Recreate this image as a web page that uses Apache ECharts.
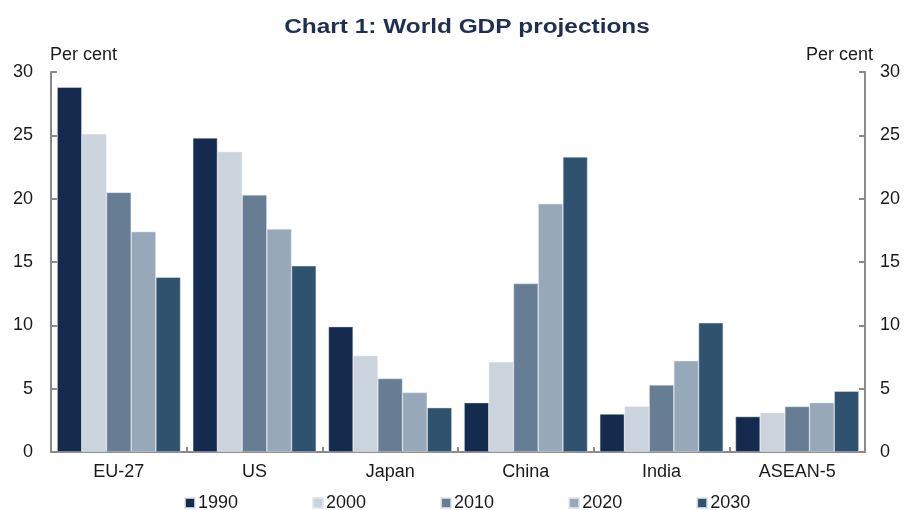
<!DOCTYPE html>
<html>
<head>
<meta charset="utf-8">
<script src="https://cdn.jsdelivr.net/npm/echarts@6/dist/echarts.min.js"></script>
<style>
  html, body { margin: 0; padding: 0; background: #fff; }
  #chart { width: 910px; height: 510px; }
</style>
</head>
<body>
<div id="chart"></div>
<script>
// Share of world GDP by economy, per cent
const categories = ['EU-27', 'US', 'Japan', 'China', 'India', 'ASEAN-5'];
const years = ['1990', '2000', '2010', '2020', '2030'];
const v1990 = [28.8, 24.8, 9.9, 3.9, 3.0, 2.8];
const v2000 = [25.1, 23.7, 7.6, 7.1, 3.6, 3.1];
const v2010 = [20.5, 20.3, 5.8, 13.3, 5.3, 3.6];
const v2020 = [17.4, 17.6, 4.7, 19.6, 7.2, 3.9];
const v2030 = [13.8, 14.7, 3.5, 23.3, 10.2, 4.8];
const yTicks = [0, 5, 10, 15, 20, 25, 30];
const unitLabel = 'Per cent';
const chartTitle = 'Chart 1: World GDP projections';

const seriesValues = [v1990, v2000, v2010, v2020, v2030];
const colors = ['#142a4f', '#cbd3dd', '#677d94', '#97a8b8', '#2f526f'];

const axisGrey = '#8a8a8a';
const textFont = 'Liberation Sans, Arial, sans-serif';

function valueAxis(position) {
  return {
    type: 'value',
    position: position,
    min: yTicks[0],
    max: yTicks[yTicks.length - 1],
    interval: yTicks[1] - yTicks[0],
    axisLine: { show: true, lineStyle: { color: axisGrey, width: 2 } },
    axisTick: { show: true, inside: true, length: 6, lineStyle: { color: axisGrey, width: 2 } },
    axisLabel: {
      fontFamily: textFont, fontSize: 18, color: '#1a1a1a',
      margin: position === 'left' ? 18 : 15
    },
    splitLine: { show: false }
  };
}

const chart = echarts.init(document.getElementById('chart'), null, { renderer: 'canvas' });
chart.setOption({
  animation: false,
  backgroundColor: '#fff',
  graphic: [
    {
      type: 'text', x: 467, y: 27, scaleX: 1.22, originX: 0,
      style: {
        text: chartTitle, font: 'bold 20px Liberation Sans, Arial, sans-serif',
        fill: '#1f2f52', align: 'center', verticalAlign: 'middle'
      }
    },
    {
      type: 'text', x: 50, y: 55,
      style: {
        text: unitLabel, font: '18px Liberation Sans, Arial, sans-serif',
        fill: '#1a1a1a', align: 'left', verticalAlign: 'middle'
      }
    },
    {
      type: 'text', x: 873, y: 55,
      style: {
        text: unitLabel, font: '18px Liberation Sans, Arial, sans-serif',
        fill: '#1a1a1a', align: 'right', verticalAlign: 'middle'
      }
    }
  ],
  grid: { left: 51, right: 45, top: 72, bottom: 58 },
  legend: {
    data: years,
    top: 494,
    left: 184,
    padding: 0,
    icon: 'rect',
    itemWidth: 10,
    itemHeight: 10,
    itemGap: 74,
    textStyle: { fontFamily: textFont, fontSize: 18, color: '#1a1a1a', padding: [0, 0, 0, -2] }
  },
  xAxis: {
    type: 'category',
    data: categories,
    axisLine: { lineStyle: { color: axisGrey, width: 2 } },
    axisTick: { show: true, inside: true, length: 5, interval: 0, lineStyle: { color: axisGrey, width: 2 } },
    axisLabel: { fontFamily: textFont, fontSize: 18, color: '#1a1a1a', margin: 11, interval: 0 }
  },
  yAxis: [valueAxis('left'), valueAxis('right')],
  series: years.map((y, i) => ({
    name: y,
    type: 'bar',
    yAxisIndex: 0,
    data: seriesValues[i],
    barGap: '0%',
    barCategoryGap: '9%',
    itemStyle: { color: colors[i], borderColor: 'rgba(225,230,236,0.8)', borderWidth: 0.6 }
  }))
});
</script>
</body>
</html>
